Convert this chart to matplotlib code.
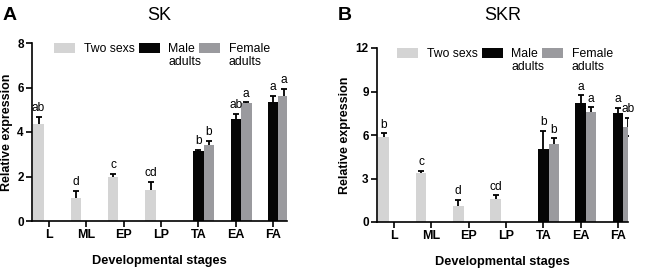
import numpy as np
import matplotlib
matplotlib.use("Agg")
import matplotlib.pyplot as plt

plt.rcParams["font.family"] = ["Liberation Sans", "DejaVu Sans"]

stages = ["L", "ML", "EP", "LP", "TA", "EA", "FA"]
larval = ["L", "ML", "EP", "LP"]
adult = ["TA", "EA", "FA"]

# SK (panel A)
sk_two = [4.37, 1.04, 1.98, 1.39]
sk_two_err = [0.32, 0.30, 0.14, 0.36]
sk_two_sig = ["ab", "d", "c", "cd"]
sk_male = [3.15, 4.60, 5.34]
sk_male_err = [0.06, 0.21, 0.29]
sk_male_sig = ["b", "ab", "a"]
sk_female = [3.43, 5.29, 5.60]
sk_female_err = [0.18, 0.04, 0.33]
sk_female_sig = ["b", "a", "a"]

# SKR (panel B)
skr_two = [5.86, 3.41, 1.09, 1.61]
skr_two_err = [0.25, 0.10, 0.46, 0.23]
skr_two_sig = ["b", "c", "d", "cd"]
skr_male = [5.02, 8.20, 7.52]
skr_male_err = [1.25, 0.53, 0.37]
skr_male_sig = ["b", "a", "a"]
skr_female = [5.41, 7.61, 6.57]
skr_female_err = [0.36, 0.29, 0.63]
skr_female_sig = ["b", "a", "ab"]

c_two = "#d4d4d4"
c_male = "#050505"
c_female = "#9a9a9e"
w = 0.28


def draw_panel(ax, two, two_err, two_sig, male, male_err, male_sig,
               female, female_err, female_sig, ymax, yticks, title, letter, lx):
    x_two = np.array([stages.index(s) for s in larval]) - w
    x_male = np.array([stages.index(s) for s in adult], dtype=float)
    x_female = x_male + w

    groups = [
        (x_two, two, two_err, two_sig, c_two, "Two sexs"),
        (x_male, male, male_err, male_sig, c_male, "Male"),
        (x_female, female, female_err, female_sig, c_female, "Female"),
    ]
    for xs, vals, errs, sigs, col, lab in groups:
        ax.bar(xs, vals, width=w, color=col, label=lab, zorder=2)
        # error bars sit behind the bars so only the upper half shows
        ax.errorbar(xs, vals, yerr=errs, fmt="none", ecolor="black",
                    elinewidth=1.3, capsize=2.2, capthick=1.3, zorder=1)
        for xi, v, e, s in zip(xs, vals, errs, sigs):
            ax.annotate(s, (xi, v + e), xytext=(0, 2), textcoords="offset points",
                        ha="center", va="bottom", fontsize=8.6)

    ax.set_ylim(0, ymax)
    ax.set_yticks(yticks)
    ax.set_xticks(range(len(stages)))
    ax.set_xticklabels(stages, fontweight="bold", fontsize=9)
    for t in ax.get_yticklabels():
        t.set_fontweight("bold")
        t.set_fontsize(8.5)
    ax.spines["top"].set_visible(False)
    ax.spines["right"].set_visible(False)
    ax.spines["left"].set_linewidth(1.2)
    ax.spines["bottom"].set_linewidth(1.2)
    ax.tick_params(width=1.2, length=4, pad=2)
    ax.set_ylabel("Relative expression", fontweight="bold", fontsize=9, labelpad=3)
    ax.set_xlabel("Developmental stages", fontweight="bold", fontsize=9.2, labelpad=10)

    leg = ax.legend(loc="upper center", bbox_to_anchor=(0.51, 1.035), ncol=3, frameon=False,
                    fontsize=8.8, handlelength=1.7, handleheight=0.9, handletextpad=0.7,
                    columnspacing=0.35, borderpad=0.0)
    # second line of the two-line legend labels
    for txt in leg.get_texts()[1:]:
        ax.annotate("adults", xy=(0, 0), xycoords=txt, xytext=(0, -0.4),
                    textcoords="offset points", ha="left", va="top", fontsize=8.8,
                    zorder=10, annotation_clip=False)

    pos = ax.get_position()
    fig.text((pos.x0 + pos.x1) / 2, 1 - 20 / 269, title, ha="center", va="baseline", fontsize=13)
    fig.text(lx, 1 - 20 / 269, letter, ha="left", va="baseline", fontsize=14, fontweight="bold")


fig = plt.figure(figsize=(6.71, 2.69), dpi=100)
ax1 = fig.add_axes([32 / 671, 48 / 269, 255 / 671, 178 / 269])
ax1.set_xlim(-0.455, 6.37)
ax2 = fig.add_axes([377 / 671, 47 / 269, 251 / 671, 174 / 269])
ax2.set_xlim(-0.46, 6.27)

draw_panel(ax1, sk_two, sk_two_err, sk_two_sig, sk_male, sk_male_err, sk_male_sig,
           sk_female, sk_female_err, sk_female_sig, 8, [0, 2, 4, 6, 8], "SK", "A", 3 / 671)
draw_panel(ax2, skr_two, skr_two_err, skr_two_sig, skr_male, skr_male_err, skr_male_sig,
           skr_female, skr_female_err, skr_female_sig, 12, [0, 3, 6, 9, 12], "SKR", "B", 338 / 671)

fig.savefig("out.png", dpi=100)
